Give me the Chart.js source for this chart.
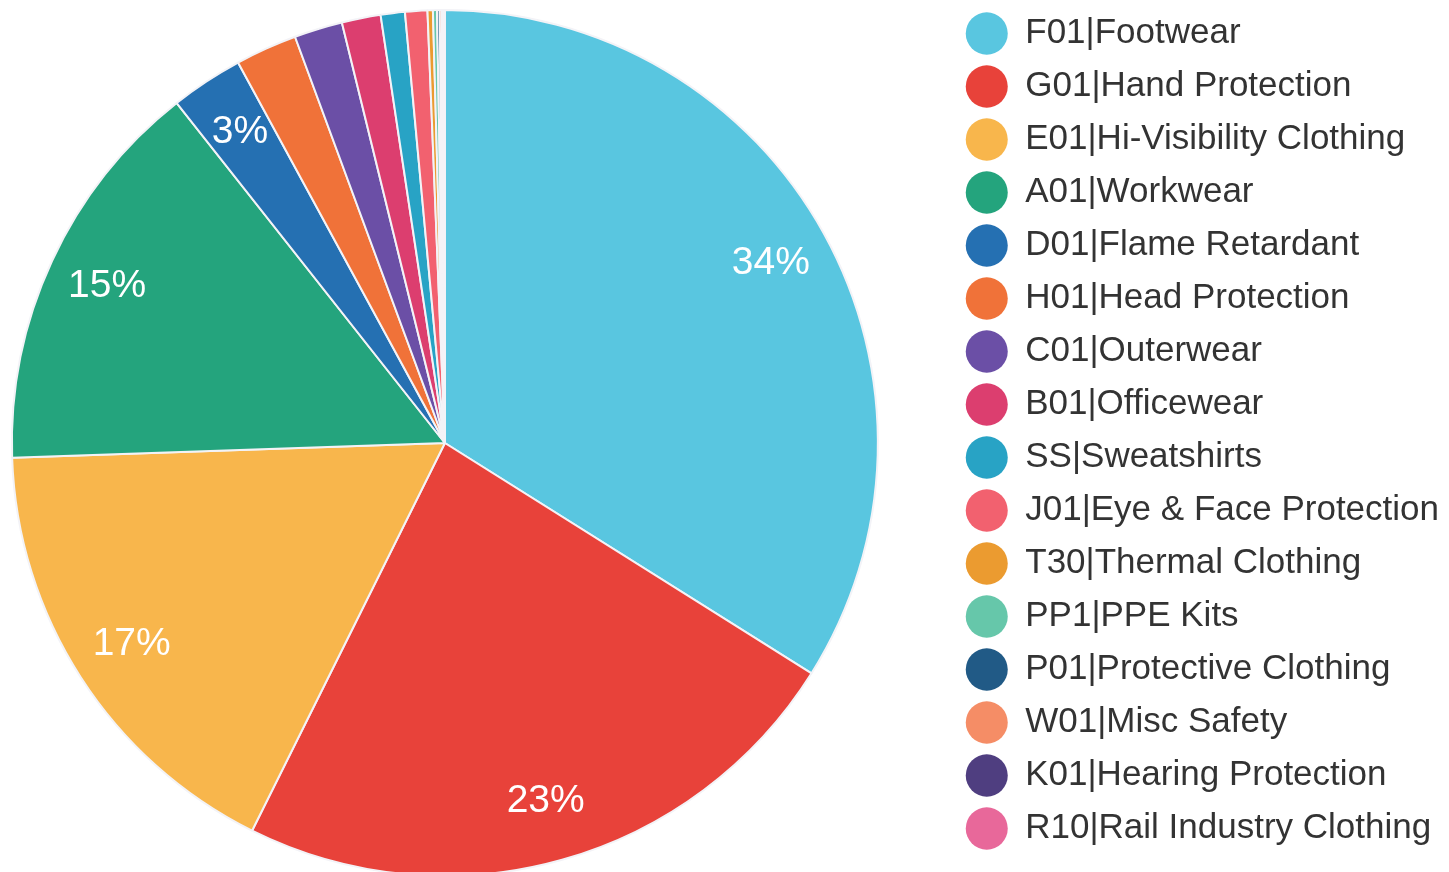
<!DOCTYPE html>
<html>
<head>
<meta charset="utf-8">
<script src="https://cdn.jsdelivr.net/npm/chart.js@4.4.1/dist/chart.umd.min.js"></script>
<style>
	html, body { margin:0; padding:0; background:#fff; overflow:hidden; }
	#chartBox { position:relative; width:1449px; height:886px; }
</style>
</head>
<body>
<div id="chartBox"><canvas id="myChart"></canvas></div>
<script>
// 카테고리 / 비율(%) / 색
var categories = [
	'F01|Footwear', 'G01|Hand Protection', 'E01|Hi-Visibility Clothing', 'A01|Workwear',
	'D01|Flame Retardant', 'H01|Head Protection', 'C01|Outerwear', 'B01|Officewear',
	'SS|Sweatshirts', 'J01|Eye & Face Protection', 'T30|Thermal Clothing', 'PP1|PPE Kits',
	'P01|Protective Clothing', 'W01|Misc Safety', 'K01|Hearing Protection', 'R10|Rail Industry Clothing'
];
var shareValues = [33.9, 23.4, 17.1, 14.9, 2.7, 2.3, 1.8, 1.45, 0.9, 0.83, 0.2, 0.15, 0.1, 0.08, 0.06, 0.05];
var sliceColors = [
	'#59C6E0', '#E8423A', '#F8B64C', '#24A47D', '#2570B2', '#F07239', '#6B4FA6', '#DC3E6F',
	'#28A3C5', '#F2616F', '#EB9B30', '#66C7AA', '#215A86', '#F58D66', '#4F3E80', '#E8689A'
];
var labelMin = 2.5; // 이 값 이상인 조각만 퍼센트 표시

// 조각 안에 퍼센트 글자 그리기
var sliceLabels = {
	id : 'sliceLabels',
	afterDatasetsDraw : function(chart){
		var ctx = chart.ctx;
		var data = chart.data.datasets[0].data;
		var total = data.reduce(function(a, b){ return a + b; }, 0);
		var meta = chart.getDatasetMeta(0);
		ctx.save();
		ctx.fillStyle = '#ffffff';
		ctx.font = '39px "Liberation Sans", Arial, sans-serif';
		ctx.textAlign = 'center';
		ctx.textBaseline = 'middle';
		meta.data.forEach(function(arc, i){
			if(data[i] < labelMin) return;
			var p = arc.getProps(['x', 'y', 'startAngle', 'endAngle', 'outerRadius'], true);
			var mid = (p.startAngle + p.endAngle) / 2;
			var r = p.outerRadius * 0.86;
			ctx.fillText(Math.round(data[i] / total * 100) + '%', p.x + Math.cos(mid) * r, p.y + Math.sin(mid) * r);
		});
		ctx.restore();
	}
};

// 범례를 캔버스 오른쪽 끝으로 붙임
var legendToRight = {
	id : 'legendToRight',
	afterLayout : function(chart){
		var lg = chart.legend;
		var dx = chart.width - lg.right;
		lg.left += dx;
		lg.right += dx;
		lg.top -= 2;
		lg.bottom -= 2;
	}
};

var ctx = document.getElementById('myChart').getContext('2d');
var myChart = new Chart(ctx, {
	type : 'pie',
	data : {
		labels : categories,
		datasets : [{
			data : shareValues,
			backgroundColor : sliceColors,
			borderColor : '#f3f3f7',
			borderWidth : 2,
			radius : 433
		}]
	},
	options : {
		responsive : true,
		maintainAspectRatio : false,
		animation : false,
		layout : { padding : { right : 58 } },
		plugins : {
			tooltip : { enabled : false },
			legend : {
				position : 'right',
				align : 'start',
				labels : {
					usePointStyle : true,
					pointStyle : 'circle',
					pointStyleWidth : 42,
					boxHeight : 30,
					padding : 18,
					color : '#333333',
					font : { family : '"Liberation Sans", Arial, sans-serif', size : 35 },
					generateLabels : function(chart){
						// 범례 원에는 테두리 없음
						var items = Chart.controllers.pie.overrides.plugins.legend.labels.generateLabels(chart);
						items.forEach(function(it){ it.lineWidth = 0; it.strokeStyle = it.fillStyle; });
						return items;
					}
				}
			}
		}
	},
	plugins : [sliceLabels, legendToRight]
});
</script>
</body>
</html>
